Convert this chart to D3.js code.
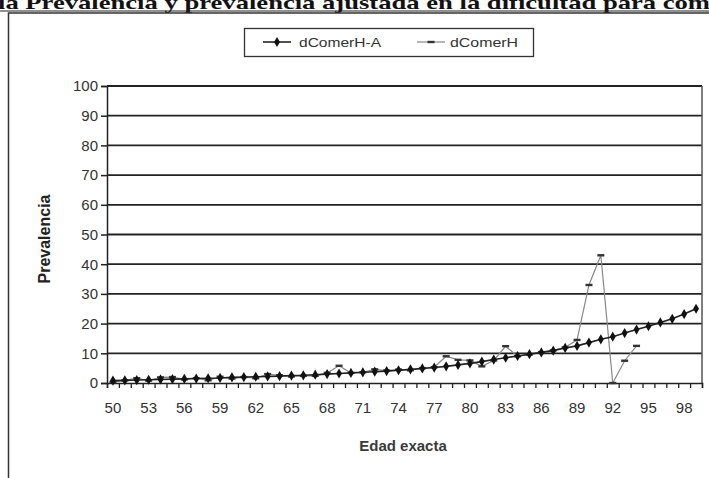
<!DOCTYPE html>
<html>
<head>
<meta charset="utf-8">
<script src="https://cdn.jsdelivr.net/npm/d3@7/dist/d3.min.js"></script>
<style>
  html, body { margin: 0; padding: 0; background: #fff; }
  svg { display: block; }
  text { font-family: Arial, "Liberation Sans", sans-serif; fill: #333; }
</style>
</head>
<body>
<svg id="chart" width="709" height="478"></svg>
<script>
// Ages (exact age) on the category axis
const ages = d3.range(50, 100);
const tickLabels = [50, 53, 56, 59, 62, 65, 68, 71, 74, 77, 80, 83, 86, 89, 92, 95, 98];
const yTicks = [0, 10, 20, 30, 40, 50, 60, 70, 80, 90, 100];

// dComerH-A: adjusted prevalence (smooth)
const comerHA = [0.8, 0.9, 1.0, 1.1, 1.2, 1.3, 1.4, 1.5, 1.6, 1.7,
                 1.9, 2.0, 2.1, 2.2, 2.3, 2.5, 2.6, 2.8, 3.0, 3.2,
                 3.4, 3.6, 3.8, 4.0, 4.3, 4.6, 4.9, 5.2, 5.6, 6.1,
                 6.6, 7.2, 7.9, 8.5, 9.1, 9.7, 10.3, 10.9, 11.8, 12.5,
                 13.6, 14.7, 15.6, 16.8, 18.0, 19.1, 20.4, 21.6, 23.2, 25.0];

// dComerH: observed prevalence (no data after 94)
const comerH = [0.3, 0.9, 1.6, 0.8, 1.9, 2.0, 1.2, 1.6, 0.9, 2.1,
                1.5, 2.0, 1.6, 3.0, 2.6, 2.2, 2.4, 2.4, 3.4, 5.8,
                3.4, 3.6, 4.6, 4.2, 4.5, 4.3, 5.0, 5.3, 9.0, 7.8,
                7.6, 5.6, 7.6, 12.4, 9.0, 9.6, 10.4, 11.0, 12.0, 14.5,
                33.0, 43.0, 0.0, 7.5, 12.5, null, null, null, null, null];

const svg = d3.select("#chart");

// Chart frame and the heading above it (runs past the top edge)
svg.append("text")
  .attr("x", -2).attr("y", 9)
  .attr("textLength", 712).attr("lengthAdjust", "spacingAndGlyphs")
  .style("font-family", "'Liberation Serif', 'Times New Roman', serif")
  .style("font-weight", "bold").style("font-size", "19px").style("fill", "#111")
  .text("la Prevalencia y prevalencia ajustada en la dificultad para com");
svg.append("line").attr("x1", 0).attr("x2", 709).attr("y1", 11).attr("y2", 11)
  .attr("stroke", "#222").attr("stroke-width", 1.2);
svg.append("rect").attr("x", 8.5).attr("y", 13).attr("width", 800).attr("height", 600)
  .attr("fill", "none").attr("stroke", "#333").attr("stroke-width", 1.5);

const plotLeft = 107, plotRight = 702, plotTop = 86, plotBottom = 383;

const x = d3.scaleBand().domain(ages).range([plotLeft, plotRight]).padding(0);
const xi = d3.scaleLinear().domain([0, ages.length]).range([plotLeft, plotRight]);
const y = d3.scaleLinear().domain([0, 100]).range([plotBottom, plotTop]);
const cx = a => x(a) + x.bandwidth() / 2;

// Horizontal gridlines
svg.append("g").selectAll("line")
  .data(yTicks.filter(v => v > 0))
  .join("line")
  .attr("x1", plotLeft).attr("x2", plotRight)
  .attr("y1", d => y(d)).attr("y2", d => y(d))
  .attr("stroke", "#222").attr("stroke-width", 1.8);

// Right edge of plot area
svg.append("line").attr("x1", plotRight).attr("x2", plotRight).attr("y1", plotTop).attr("y2", plotBottom)
  .attr("stroke", "#555").attr("stroke-width", 1.5);

// Y axis
const yAxis = svg.append("g").attr("transform", `translate(${plotLeft},0)`)
  .call(d3.axisLeft(y).tickValues(yTicks).tickSize(6).tickPadding(3));
yAxis.select(".domain").attr("stroke", "#222").attr("stroke-width", 1.5);
yAxis.selectAll(".tick line").attr("stroke", "#222").attr("stroke-width", 1.5);
yAxis.selectAll(".tick text").style("font-size", "15px").style("fill", "#333");

// X axis: tick marks between categories
const xTicks = svg.append("g").attr("transform", `translate(0,${plotBottom})`)
  .call(d3.axisBottom(xi).tickValues(d3.range(0, ages.length + 1)).tickSize(5).tickFormat(""));
xTicks.select(".domain").attr("stroke", "#222").attr("stroke-width", 1.5);
xTicks.selectAll(".tick line").attr("stroke", "#222").attr("stroke-width", 1.3);

// X axis: category labels every third age
const xLabels = svg.append("g").attr("transform", `translate(0,${plotBottom})`)
  .call(d3.axisBottom(x).tickValues(tickLabels).tickSize(0).tickPadding(19));
xLabels.select(".domain").remove();
xLabels.selectAll(".tick text").style("font-size", "15px").style("fill", "#333");

// Axis titles
svg.append("text")
  .attr("transform", "translate(50,239) rotate(-90)")
  .attr("text-anchor", "middle")
  .style("font-weight", "bold").style("font-size", "16px").style("fill", "#222")
  .text("Prevalencia");
svg.append("text")
  .attr("x", 403).attr("y", 451)
  .attr("text-anchor", "middle")
  .style("font-weight", "bold").style("font-size", "15px").style("fill", "#3a3a3a")
  .text("Edad exacta");

// Series: observed (grey line, dash markers)
const hData = ages.map((a, i) => ({ a, v: comerH[i] }));
const lineH = d3.line().defined(d => d.v != null).x(d => cx(d.a)).y(d => y(d.v));
svg.append("path").datum(hData).attr("d", lineH)
  .attr("fill", "none").attr("stroke", "#888").attr("stroke-width", 1.2);
svg.append("g").selectAll("rect")
  .data(hData.filter(d => d.v != null))
  .join("rect")
  .attr("x", d => cx(d.a) - 3.5).attr("y", d => y(d.v) - 1.2)
  .attr("width", 7).attr("height", 2.4).attr("fill", "#333");

// Series: adjusted (black line, diamond markers)
const aData = ages.map((a, i) => ({ a, v: comerHA[i] }));
const lineA = d3.line().x(d => cx(d.a)).y(d => y(d.v));
svg.append("path").datum(aData).attr("d", lineA)
  .attr("fill", "none").attr("stroke", "#222").attr("stroke-width", 1.6);
const diamond = d3.symbol().type(d3.symbolDiamond).size(30);
svg.append("g").selectAll("path")
  .data(aData)
  .join("path")
  .attr("d", diamond)
  .attr("transform", d => `translate(${cx(d.a)},${y(d.v)})`)
  .attr("fill", "#111");

// Legend
const lg = svg.append("g");
lg.append("rect").attr("x", 244.5).attr("y", 28.5).attr("width", 289).attr("height", 28)
  .attr("fill", "#fff").attr("stroke", "#333").attr("stroke-width", 1.3);
lg.append("line").attr("x1", 263).attr("x2", 291).attr("y1", 42).attr("y2", 42)
  .attr("stroke", "#222").attr("stroke-width", 1.6);
lg.append("path").attr("d", diamond).attr("transform", "translate(277,42)").attr("fill", "#111");
lg.append("text").attr("x", 299).attr("y", 46.5)
  .attr("textLength", 82).attr("lengthAdjust", "spacingAndGlyphs")
  .style("font-size", "13px").text("dComerH-A");
lg.append("line").attr("x1", 417).attr("x2", 445).attr("y1", 42).attr("y2", 42)
  .attr("stroke", "#888").attr("stroke-width", 1.2);
lg.append("rect").attr("x", 427.5).attr("y", 40.8).attr("width", 7).attr("height", 2.4).attr("fill", "#333");
lg.append("text").attr("x", 450).attr("y", 46.5)
  .attr("textLength", 68).attr("lengthAdjust", "spacingAndGlyphs")
  .style("font-size", "13px").text("dComerH");
</script>
</body>
</html>
